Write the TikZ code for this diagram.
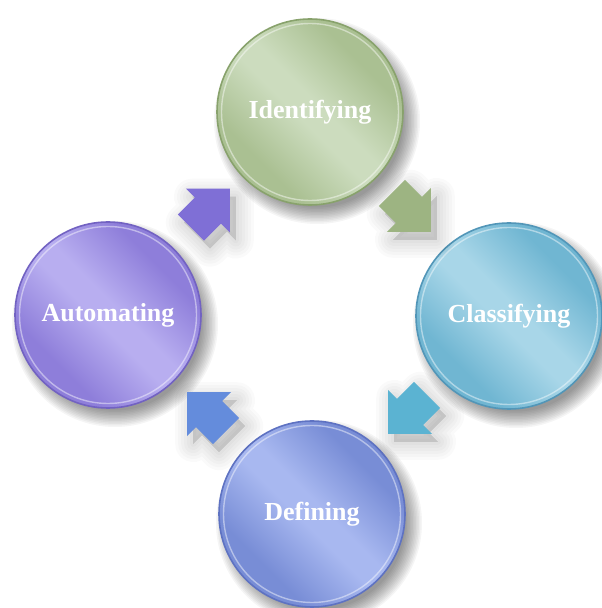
\documentclass[tikz,border=0pt]{standalone}
\usepackage{fontspec}
\setmainfont{Liberation Serif}
\usetikzlibrary{calc}

\pgfdeclarelayer{background}
\pgfsetlayers{background,main}

% stage colours: base, highlight, rim
\definecolor{idBase}{RGB}{170,192,146}
\definecolor{idLight}{RGB}{204,220,190}
\definecolor{idRim}{RGB}{136,162,108}
\definecolor{clBase}{RGB}{112,182,210}
\definecolor{clLight}{RGB}{168,214,232}
\definecolor{clRim}{RGB}{82,150,184}
\definecolor{deBase}{RGB}{120,141,214}
\definecolor{deLight}{RGB}{168,184,240}
\definecolor{deRim}{RGB}{94,114,194}
\definecolor{auBase}{RGB}{142,126,218}
\definecolor{auLight}{RGB}{184,174,240}
\definecolor{auRim}{RGB}{114,98,194}
% arrow colours
\definecolor{arPurple}{RGB}{127,111,214}
\definecolor{arGreen}{RGB}{157,180,130}
\definecolor{arCyan}{RGB}{91,179,210}
\definecolor{arBlue}{RGB}{100,140,220}

% glossy body: a soft light band across the middle
\newcommand\declaregloss[3]{%
  \pgfdeclareverticalshading{#1}{100bp}{color(0bp)=(#2); color(31bp)=(#2);
    color(47bp)=(#3); color(53bp)=(#3); color(69bp)=(#2); color(100bp)=(#2)}}
\declaregloss{idGloss}{idBase}{idLight}
\declaregloss{clGloss}{clBase}{clLight}
\declaregloss{deGloss}{deBase}{deLight}
\declaregloss{auGloss}{auBase}{auLight}

\tikzset{
  stage/.style={circle, minimum size=186pt, inner sep=0pt,
      draw=#1, line width=1.6pt,
      text=white, font=\fontsize{26}{28}\selectfont\bfseries},
  rimlight/.style={draw=white, draw opacity=0.45, line width=1.4pt},
  shadowstep/.style={fill=black, fill opacity=0.04},
  arrowshadow/.style={draw=black, fill=black, opacity=0.02,
      line width=#1, line join=round}
}

% outline of a block arrow pointing along +x, centred on the origin
\def\arrowoutline{(-27,-18.5) -- (-3,-18.5) -- (-3,-31) -- (28,0)
  -- (-3,31) -- (-3,18.5) -- (-27,18.5) -- cycle}

% \blockarrowat{position}{angle}{colour}
\newcommand\blockarrowat[3]{%
  \begin{scope}[shift={#1}]
    \begin{scope}[shift={(6,-8)}, rotate=#2]
      \foreach \w in {36,30,24,18,12,6}
        \path[arrowshadow=\w pt] \arrowoutline;
    \end{scope}
    \begin{scope}[rotate=#2]
      \fill[#3] \arrowoutline;
    \end{scope}
  \end{scope}}

% soft drop shadow and glossy body of a stage circle
\newcommand\stagebody[2]{%
  \foreach \k in {0,...,11}{
    \pgfmathsetmacro\rr{103-1.5*\k}
    \fill[shadowstep] ($(#1.center)+(7,-9)$) circle (\rr pt);}
  \shade[shading=#2, shading angle=-45] (#1.center) circle (93pt);}

\begin{document}
\begin{tikzpicture}[x=1pt,y=1pt]
  \useasboundingbox (0,0) rectangle (602,608);

  % the four stages of the cycle
  \node[stage=idRim] (I) at (310,496) {Identifying};
  \node[stage=clRim] (C) at (509,292) {Classifying};
  \node[stage=deRim] (D) at (312,94)  {Defining};
  \node[stage=auRim] (A) at (108,293) {Automating};

  \begin{pgfonlayer}{background}
    \fill[white] (0,0) rectangle (602,608);
    \stagebody{I}{idGloss}
    \stagebody{C}{clGloss}
    \stagebody{D}{deGloss}
    \stagebody{A}{auGloss}
  \end{pgfonlayer}

  % inner bevel highlight
  \foreach \s in {I,C,D,A}
    \draw[rimlight] (\s.center) circle (88.5pt);

  % block arrows between consecutive stages
  \blockarrowat{($(A)!0.5!(I)+(1,5)$)}{45}{arPurple}
  \blockarrowat{($(I)!0.5!(C)+(1.5,2)$)}{-45}{arGreen}
  \blockarrowat{($(C)!0.5!(D)+(-2.5,1)$)}{-135}{arCyan}
  \blockarrowat{($(D)!0.5!(A)+(-3,2.5)$)}{135}{arBlue}
\end{tikzpicture}
\end{document}
